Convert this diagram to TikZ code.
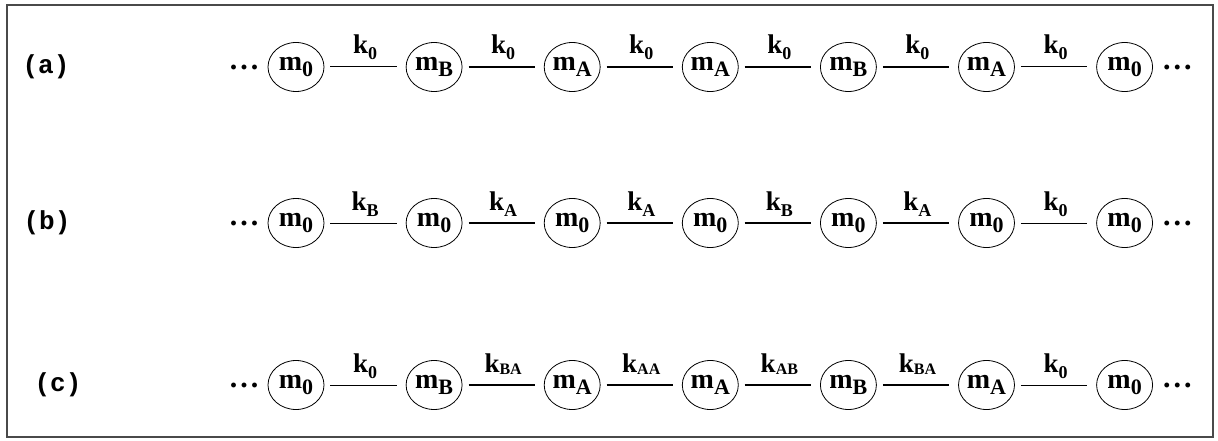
\documentclass[tikz,border=0pt]{standalone}
\usepackage{fontspec}
\setmainfont{Liberation Serif}
\newfontfamily\labfont{Liberation Mono}
\usetikzlibrary{positioning,shapes.geometric}
\definecolor{frm}{HTML}{4A4A4A}
\newcommand{\msb}[1]{\raisebox{-6pt}{\fontsize{22}{22}\selectfont#1}}
\newcommand{\ksb}[1]{\raisebox{-6pt}{\fontsize{18}{18}\selectfont#1}}
\newcommand{\kdb}[1]{\raisebox{-2pt}{\fontsize{16}{16}\selectfont#1}}
\newcommand{\mdots}{.\kern3pt.\kern3pt.}
\tikzset{
  mass/.style={draw,ellipse,minimum width=56pt,minimum height=49pt,inner sep=0pt,line width=0.8pt,
    font=\fontsize{28}{28}\selectfont\bfseries},
  spr/.style={line width=1pt,shorten <=6pt,shorten >=9pt},
  sprt/.style={spr,line width=2.6pt},
  klab/.style={midway,anchor=base,yshift=13pt,inner sep=0pt,font=\fontsize{27}{27}\selectfont\bfseries},
  dts/.style={inner sep=0pt,font=\fontsize{30}{30}\selectfont\bfseries},
  rlab/.style={inner sep=0pt,font=\labfont\fontsize{26}{26}\selectfont\bfseries},
}
\begin{document}
\begin{tikzpicture}[x=1pt,y=-1pt,node distance=81.3pt]
\useasboundingbox[fill=white] (0,0) rectangle (1218,441);
\draw[frm,line width=2pt] (7,5) rectangle (1213,437);
% row (a)
\node[rlab] (la) at (46,67) {(a)};
\node[mass] (a1) at (296,67) {m\msb{0}};
\node[mass,right=of a1] (a2) {m\msb{B}};
\node[mass,right=of a2] (a3) {m\msb{A}};
\node[mass,right=of a3] (a4) {m\msb{A}};
\node[mass,right=of a4] (a5) {m\msb{B}};
\node[mass,right=of a5] (a6) {m\msb{A}};
\node[mass,right=of a6] (a7) {m\msb{0}};
\node[dts,left=9pt of a1] (da1) {\mdots};
\node[dts,right=10pt of a7] (da2) {\mdots};
\draw[spr] (a1) -- node[klab] {k\ksb{0}} (a2);
\draw[sprt] (a2) -- node[klab] {k\ksb{0}} (a3);
\draw[sprt] (a3) -- node[klab] {k\ksb{0}} (a4);
\draw[sprt] (a4) -- node[klab] {k\ksb{0}} (a5);
\draw[sprt] (a5) -- node[klab] {k\ksb{0}} (a6);
\draw[spr] (a6) -- node[klab] {k\ksb{0}} (a7);
% row (b)
\node[rlab] (lb) at (47,223) {(b)};
\node[mass] (b1) at (296,223) {m\msb{0}};
\node[mass,right=of b1] (b2) {m\msb{0}};
\node[mass,right=of b2] (b3) {m\msb{0}};
\node[mass,right=of b3] (b4) {m\msb{0}};
\node[mass,right=of b4] (b5) {m\msb{0}};
\node[mass,right=of b5] (b6) {m\msb{0}};
\node[mass,right=of b6] (b7) {m\msb{0}};
\node[dts,left=9pt of b1] (db1) {\mdots};
\node[dts,right=10pt of b7] (db2) {\mdots};
\draw[spr] (b1) -- node[klab] {k\ksb{B}} (b2);
\draw[sprt] (b2) -- node[klab] {k\ksb{A}} (b3);
\draw[sprt] (b3) -- node[klab] {k\ksb{A}} (b4);
\draw[sprt] (b4) -- node[klab] {k\ksb{B}} (b5);
\draw[sprt] (b5) -- node[klab] {k\ksb{A}} (b6);
\draw[spr] (b6) -- node[klab] {k\ksb{0}} (b7);
% row (c)
\node[rlab] (lc) at (58,385) {(c)};
\node[mass] (c1) at (296,385) {m\msb{0}};
\node[mass,right=of c1] (c2) {m\msb{B}};
\node[mass,right=of c2] (c3) {m\msb{A}};
\node[mass,right=of c3] (c4) {m\msb{A}};
\node[mass,right=of c4] (c5) {m\msb{B}};
\node[mass,right=of c5] (c6) {m\msb{A}};
\node[mass,right=of c6] (c7) {m\msb{0}};
\node[dts,left=9pt of c1] (dc1) {\mdots};
\node[dts,right=10pt of c7] (dc2) {\mdots};
\draw[spr] (c1) -- node[klab] {k\ksb{0}} (c2);
\draw[sprt] (c2) -- node[klab] {k\kdb{BA}} (c3);
\draw[sprt] (c3) -- node[klab] {k\kdb{AA}} (c4);
\draw[sprt] (c4) -- node[klab] {k\kdb{AB}} (c5);
\draw[sprt] (c5) -- node[klab] {k\kdb{BA}} (c6);
\draw[spr] (c6) -- node[klab] {k\ksb{0}} (c7);
\end{tikzpicture}
\end{document}
